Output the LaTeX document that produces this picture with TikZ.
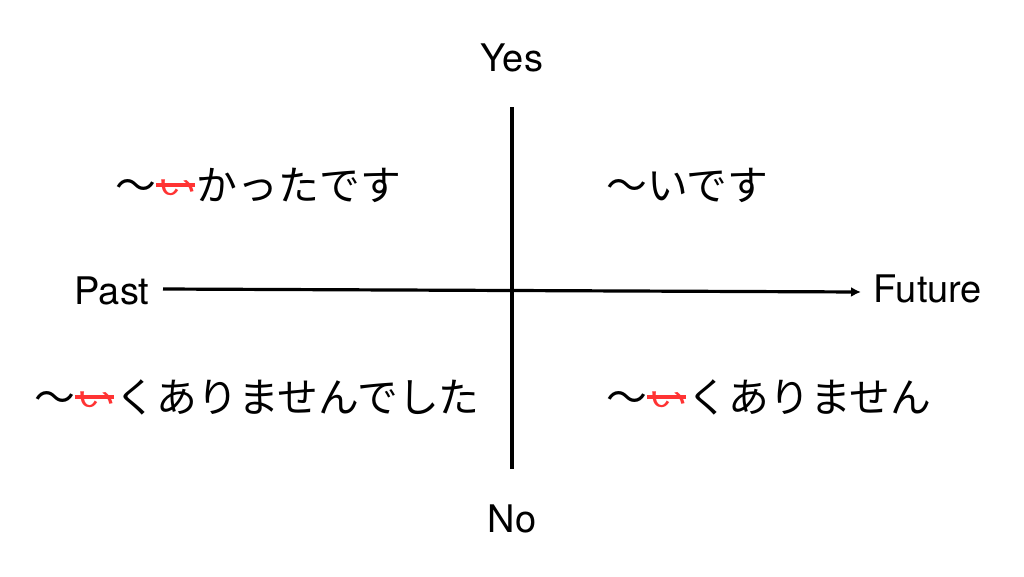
\documentclass[tikz,border=0pt]{standalone}
\usepackage{fontspec}
\usepackage{graphicx}
\setmainfont{TeX Gyre Heros}
\newfontfamily\jpfont{Noto Sans CJK JP}
\usetikzlibrary{arrows.meta}

% struck-out red i
\newcommand{\redi}{\textcolor{red!80!white}{\makebox[1em]{\raisebox{0.12em}{\scalebox{1}[0.55]{い}}}\llap{\rule[0.31em]{0.95em}{0.12em}\hspace{0.05em}}}}

\begin{document}
\begin{tikzpicture}[x=1pt, y=-1pt]
	\tikzset{
		axis/.style={line width=3.2pt, black},
		latin/.style={font=\fontsize{38}{42}\selectfont, inner sep=0pt},
		kana/.style={font=\fontsize{40.8}{44}\selectfont\jpfont, inner sep=0pt}
	}
	\useasboundingbox (0, 0) rectangle (1024, 576);
	%axes
	\coordinate (top) at (512, 107);
	\coordinate (bottom) at (512, 469);
	\coordinate (left) at (163, 289);
	\coordinate (right) at (861, 292);
	\draw[axis] (top) -- (bottom);
	\draw[axis, -{Latex[length=10pt, width=10pt]}] (left) -- (right);
	%labels
	\node[latin] (yes) at (512, 58) {Yes};
	\node[latin] (no) at (512, 519) {No};
	\node[latin] (past) at (112, 291) {Past};
	\node[latin] (future) at (928, 289) {Future};
	%forms
	\node[kana, anchor=west] (pastyes) at (115, 185) {〜\redi かったです};
	\node[kana, anchor=west] (nowyes) at (606, 185) {〜いです};
	\node[kana, anchor=west] (pastno) at (34, 397) {〜\redi くありませんでした};
	\node[kana, anchor=west] (nowno) at (606, 397) {〜\redi くありません};
\end{tikzpicture}
\end{document}
